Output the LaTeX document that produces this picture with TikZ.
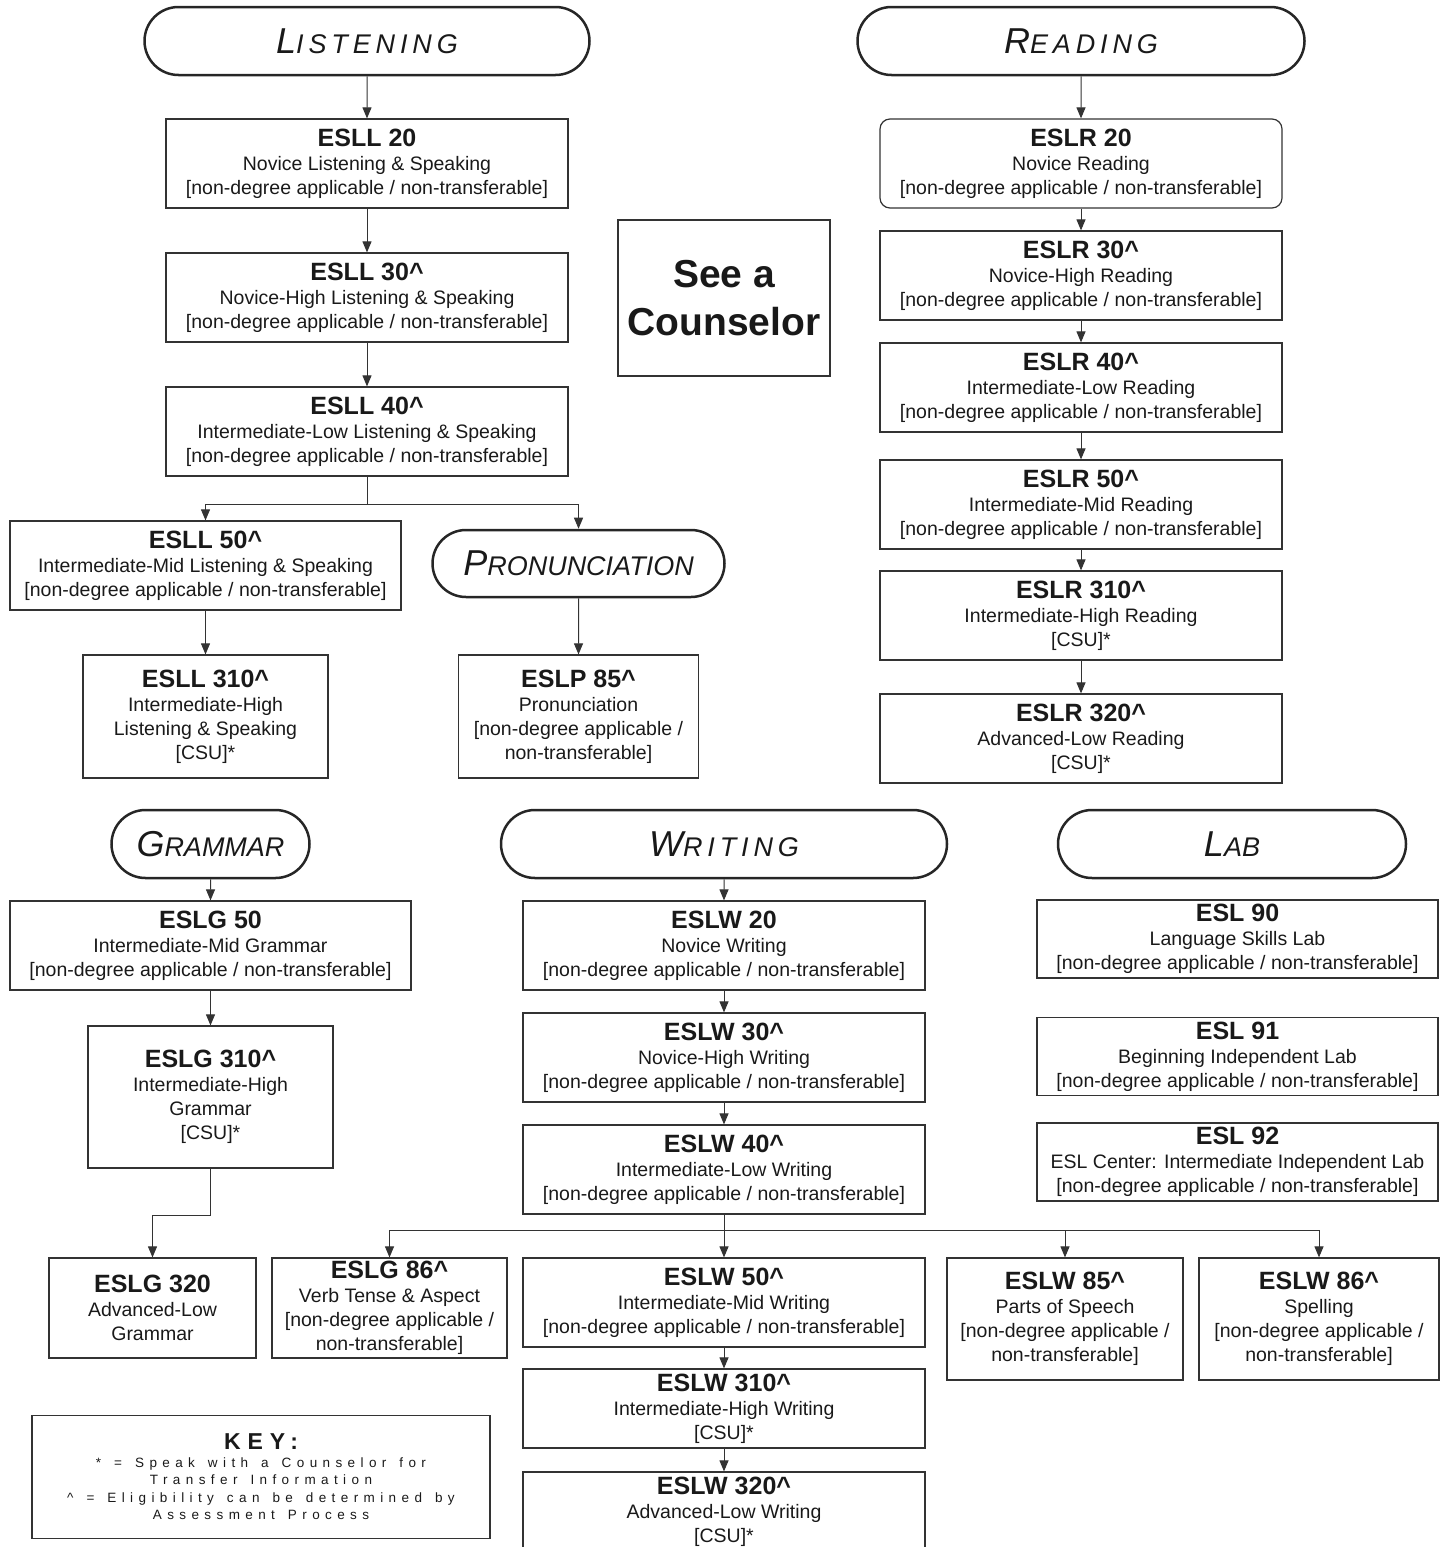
\documentclass[tikz,border=0pt]{standalone}
\usepackage{fontspec}
\setmainfont{Liberation Sans}
\newfontfamily\hdsp[LetterSpace=18]{Liberation Sans}
\newfontfamily\keyhd[LetterSpace=30]{Liberation Sans}
\newfontfamily\keysp[LetterSpace=40]{Liberation Sans}
\usetikzlibrary{shapes.misc,arrows.meta}

% course box text: bold title, then the lines below it
\newcommand{\crs}[2]{{\fontsize{25}{25}\selectfont\bfseries #1}\\#2}
% header text: big first letter, small capitals after it
\newcommand{\hd}[2]{{\fontsize{36}{36}\selectfont #1}{\fontsize{27}{27}\selectfont #2}}
\newcommand{\ndt}{[non-degree applicable / non-transferable]}
\newcommand{\ndtwo}{[non-degree applicable /\\non-transferable]}
\newcommand{\csu}{[CSU]*}
\newcommand{\ct}{\textasciicircum}
\newcommand{\keyfont}{\keysp\fontsize{13.5}{17.5}\selectfont}
\newcommand{\ks}{\hspace{13pt}}

\begin{document}
\begin{tikzpicture}[x=1pt, y=-1pt,
    box/.style={draw=black!80, line width=1.2pt, rectangle, inner sep=0pt, align=center,
        text=black!90, font=\fontsize{19.5}{24}\selectfont},
    wide/.style={box, minimum width=402pt, minimum height=89pt},
    hdr/.style={draw=black!85, line width=2.5pt, rounded rectangle, inner sep=0pt,
        minimum height=68pt, text=black!90, font=\itshape},
    arr/.style={draw=black!80, line width=1pt, -{Triangle[length=11pt,width=9pt]}},
    splitline/.style={draw=black!80, line width=1pt}]
    \useasboundingbox (0,0) rectangle (1445,1547);

    % Headers
    \node[hdr, minimum width=445pt, font=\hdsp\itshape] (lst) at (367,41) {\hd{L}{ISTENING}};
    \node[hdr, minimum width=447pt, font=\hdsp\itshape] (rdg) at (1081,41) {\hd{R}{EADING}};
    \node[hdr, minimum width=292pt, minimum height=67pt] (pron) at (578.5,563.5) {\hd{P}{RONUNCIATION}};
    \node[hdr, minimum width=198pt] (gram) at (210.5,844) {\hd{G}{RAMMAR}};
    \node[hdr, minimum width=446pt, font=\hdsp\itshape] (wrt) at (724,844) {\hd{W}{RITING}};
    \node[hdr, minimum width=348pt] (lab) at (1232,844) {\hd{L}{AB}};

    % Listening
    \node[wide] (l20) at (367,163.5) {\crs{ESLL 20}{Novice Listening \& Speaking\\\ndt}};
    \node[wide] (l30) at (367,297.5) {\crs{ESLL 30\ct}{Novice-High Listening \& Speaking\\\ndt}};
    \node[wide] (l40) at (367,431.5) {\crs{ESLL 40\ct}{Intermediate-Low Listening \& Speaking\\\ndt}};
    \node[wide, minimum width=391pt] (l50) at (205.5,565.5) {\crs{ESLL 50\ct}{Intermediate-Mid Listening \& Speaking\\\ndt}};
    \node[box, minimum width=245pt, minimum height=123pt] (l310) at (205.5,716.5) {\crs{ESLL 310\ct}{Intermediate-High\\Listening \& Speaking\\\csu}};
    \node[box, minimum width=240pt, minimum height=123pt] (p85) at (578.5,716.5) {\crs{ESLP 85\ct}{Pronunciation\\\ndtwo}};

    % Counselor
    \node[box, minimum width=212pt, minimum height=156pt, font=\fontsize{39}{48}\selectfont\bfseries] (csl) at (724,298) {See a\\Counselor};

    % Reading
    \node[wide, rounded corners=10pt] (r20) at (1081,163.5) {\crs{ESLR 20}{Novice Reading\\\ndt}};
    \node[wide] (r30) at (1081,275.5) {\crs{ESLR 30\ct}{Novice-High Reading\\\ndt}};
    \node[wide] (r40) at (1081,387.5) {\crs{ESLR 40\ct}{Intermediate-Low Reading\\\ndt}};
    \node[wide] (r50) at (1081,504.5) {\crs{ESLR 50\ct}{Intermediate-Mid Reading\\\ndt}};
    \node[wide] (r310) at (1081,615.5) {\crs{ESLR 310\ct}{Intermediate-High Reading\\\csu}};
    \node[wide] (r320) at (1081,738.5) {\crs{ESLR 320\ct}{Advanced-Low Reading\\\csu}};

    % Grammar
    \node[wide, minimum width=401pt] (g50) at (210.5,945.5) {\crs{ESLG 50}{Intermediate-Mid Grammar\\\ndt}};
    \node[box, minimum width=245pt, minimum height=142pt] (g310) at (210.5,1097) {\crs{ESLG 310\ct}{Intermediate-High\\Grammar\\\csu}};
    \node[box, minimum width=207pt, minimum height=100pt] (g320) at (152.5,1308) {\crs{ESLG 320}{Advanced-Low\\Grammar}};
    \node[box, minimum width=235pt, minimum height=100pt] (g86) at (389.5,1308) {\crs{ESLG 86\ct}{Verb Tense \& Aspect\\\ndtwo}};

    % Writing
    \node[wide] (w20) at (724,945.5) {\crs{ESLW 20}{Novice Writing\\\ndt}};
    \node[wide] (w30) at (724,1057.5) {\crs{ESLW 30\ct}{Novice-High Writing\\\ndt}};
    \node[wide] (w40) at (724,1169.5) {\crs{ESLW 40\ct}{Intermediate-Low Writing\\\ndt}};
    \node[wide] (w50) at (724,1302.5) {\crs{ESLW 50\ct}{Intermediate-Mid Writing\\\ndt}};
    \node[wide, minimum height=79pt] (w310) at (724,1408.5) {\crs{ESLW 310\ct}{Intermediate-High Writing\\\csu}};
    \node[wide, minimum height=80pt] (w320) at (724,1512) {\crs{ESLW 320\ct}{Advanced-Low Writing\\\csu}};
    \node[box, minimum width=236pt, minimum height=122pt] (w85) at (1065,1319) {\crs{ESLW 85\ct}{Parts of Speech\\\ndtwo}};
    \node[box, minimum width=240pt, minimum height=122pt] (w86) at (1319,1319) {\crs{ESLW 86\ct}{Spelling\\\ndtwo}};

    % Lab
    \node[wide, minimum width=401pt, minimum height=78pt] (e90) at (1237.5,939) {\crs{ESL 90}{Language Skills Lab\\\ndt}};
    \node[wide, minimum width=401pt, minimum height=78pt] (e91) at (1237.5,1056.5) {\crs{ESL 91}{Beginning Independent Lab\\\ndt}};
    \node[wide, minimum width=401pt, minimum height=78pt] (e92) at (1237.5,1162) {\crs{ESL 92}{ESL Center: Intermediate Independent Lab\\\ndt}};

    % Key
    \node[box, minimum width=458pt, minimum height=123pt, font=\keyfont] (key) at (261,1477)
        {{\keyhd\bfseries\fontsize{23}{25}\selectfont KEY:}\\{*}\ks=\ks Speak\ks with\ks a\ks Counselor\ks for\\Transfer\ks Information\\\ct\ks=\ks Eligibility\ks can\ks be\ks determined\ks by\\Assessment\ks Process};

    % Straight chains
    \foreach \a/\b in {lst/l20,l20/l30,l30/l40,l50/l310,pron/p85,
        rdg/r20,r20/r30,r30/r40,r40/r50,r50/r310,r310/r320,
        gram/g50,g50/g310,wrt/w20,w20/w30,w30/w40,w50/w310,w310/w320} {
        \draw[arr] (\a) -- (\b);
    }

    % Branches
    \coordinate (lj) at (367,504);
    \draw[splitline] (l40) -- (lj);
    \foreach \n in {l50,pron} {
        \draw[arr] (lj) -| (\n);
    }
    \coordinate (gj) at (210.5,1215);
    \draw[splitline] (g310) -- (gj);
    \draw[arr] (gj) -| (g320);
    \coordinate (wj) at (724,1230);
    \draw[splitline] (w40) -- (wj);
    \foreach \n in {g86,w50,w85,w86} {
        \draw[arr] (wj) -| (\n);
    }
\end{tikzpicture}
\end{document}
